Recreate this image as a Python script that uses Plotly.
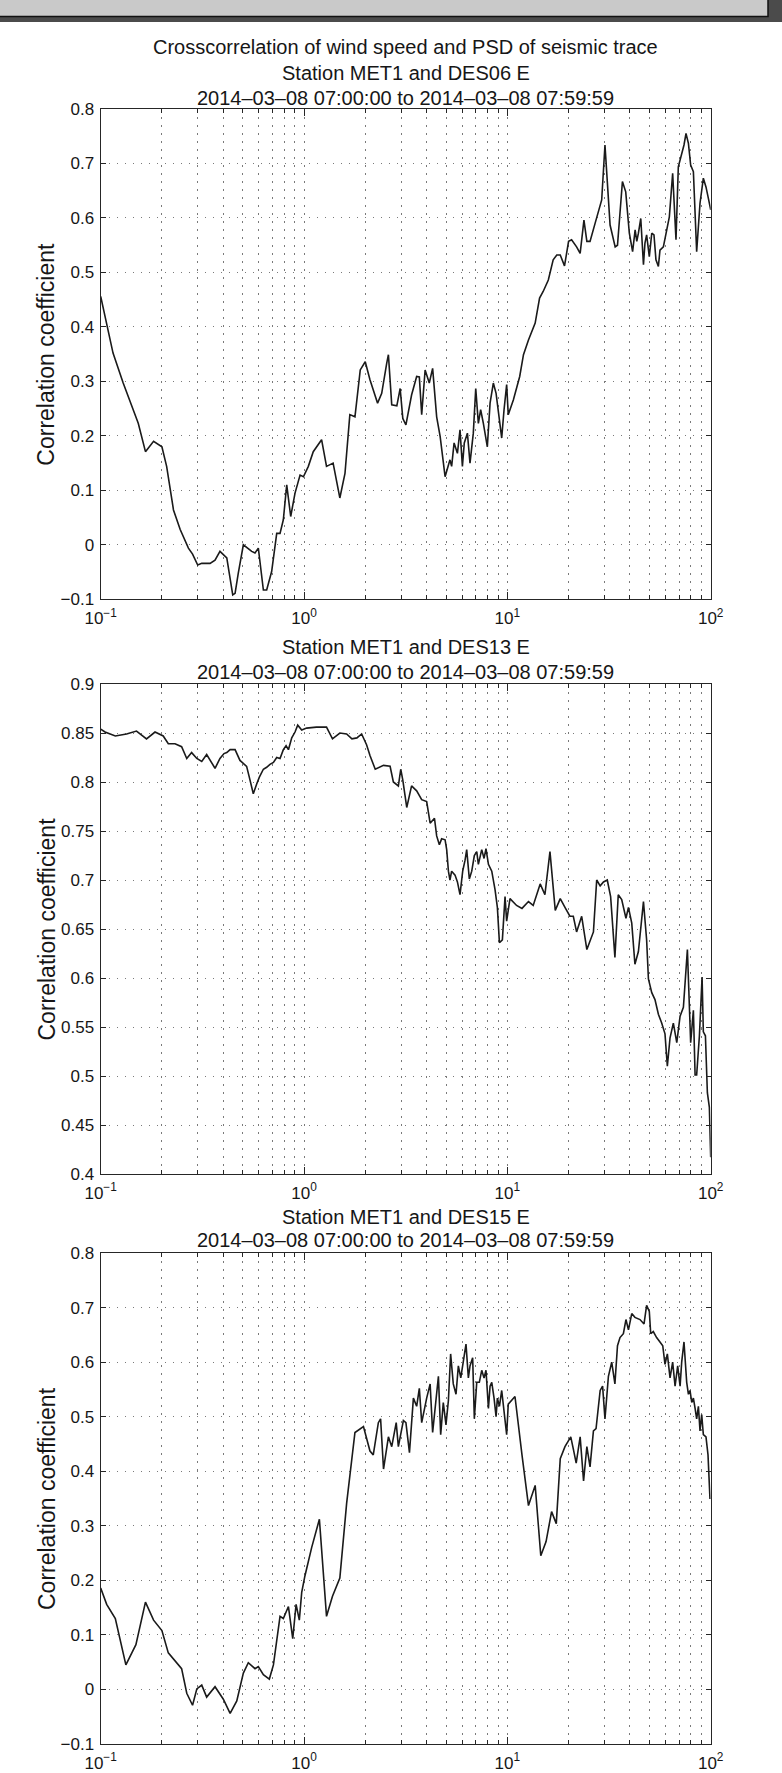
import plotly.graph_objects as go

W, H = 782, 1773
FONT = "Liberation Sans, Arial, Helvetica, sans-serif"

# ---- data: frequency (Hz) and correlation coefficient per station pair ----
freq_des06 = [0.1, 0.115, 0.129, 0.145, 0.153, 0.166, 0.182, 0.2, 0.211, 0.228, 0.246, 0.27, 0.283, 0.3, 0.314,
              0.345, 0.365, 0.386, 0.417, 0.446, 0.458, 0.475, 0.503, 0.553, 0.574, 0.596, 0.631, 0.655, 0.693,
              0.734, 0.762, 0.791, 0.822, 0.86, 0.903, 0.956, 0.993, 1.05, 1.11, 1.22, 1.29, 1.39, 1.5, 1.59,
              1.68, 1.78, 1.89, 2.0, 2.11, 2.3, 2.41, 2.55, 2.6,
              2.7, 2.86, 2.97, 3.06, 3.17, 3.38, 3.58, 3.69, 3.79, 3.94, 4.13, 4.29, 4.49, 4.67, 4.94, 5.22,
              5.32, 5.47, 5.68, 5.85, 6.01, 6.14, 6.36, 6.55, 6.8, 6.99, 7.2, 7.39, 7.62, 7.97, 8.22, 8.53,
              8.8, 9.13, 9.38, 9.63, 9.92, 10.1, 10.7, 11.5, 12.0, 12.7, 13.7, 14.4, 15.0, 15.9, 16.8, 17.5,
              18.2, 19.1, 20.0, 20.7, 21.9, 22.8, 23.8, 24.6, 25.5, 27.0, 29.1, 30.2, 32.0, 33.9, 34.8, 36.8,
              38.2, 39.8, 41.3, 42.5, 43.3, 44.1, 45.3, 46.7, 47.5, 48.4, 49.9, 51.3, 52.6, 53.8, 55.3, 56.3,
              58.5, 60.8, 62.6, 65.0, 67.5, 69.3, 72.0, 73.9, 75.6, 77.7, 79.7, 82.2, 85.3, 88.6, 92.0, 94.8,
              97.4, 100]
corr_des06 = [0.456, 0.352, 0.297, 0.248, 0.223, 0.171, 0.190, 0.180, 0.144, 0.064, 0.028, -0.006, -0.017,
              -0.037, -0.034, -0.034, -0.028, -0.012, -0.024, -0.092, -0.089, -0.052, 0.0, -0.012, -0.015,
              -0.006, -0.083, -0.083, -0.049, 0.021, 0.021, 0.046, 0.110, 0.052, 0.095, 0.128, 0.125, 0.144,
              0.171, 0.193, 0.144, 0.150, 0.086, 0.131, 0.239, 0.235, 0.321, 0.336, 0.303, 0.260, 0.278, 0.333,
              0.349,
              0.257, 0.255, 0.287, 0.232, 0.220, 0.275, 0.309, 0.308, 0.239, 0.321, 0.297, 0.324, 0.235, 0.199,
              0.125, 0.156, 0.144, 0.187, 0.168, 0.211, 0.144, 0.187, 0.205, 0.150, 0.205, 0.287, 0.223, 0.248,
              0.223, 0.180, 0.260, 0.297, 0.278, 0.229, 0.196, 0.248, 0.294, 0.239, 0.266, 0.309, 0.349, 0.376,
              0.407, 0.453, 0.465, 0.486, 0.523, 0.532, 0.532, 0.512, 0.557, 0.560, 0.547, 0.535, 0.596, 0.557,
              0.557, 0.590, 0.633, 0.734, 0.587, 0.547, 0.550, 0.667, 0.648, 0.572, 0.538, 0.578, 0.557, 0.572,
              0.599, 0.514, 0.554, 0.569, 0.529, 0.572, 0.569, 0.523, 0.511, 0.541, 0.547, 0.578, 0.602, 0.682,
              0.560, 0.694, 0.716, 0.734, 0.755, 0.737, 0.697, 0.685, 0.538, 0.627, 0.673, 0.657, 0.636, 0.615]

freq_des13 = [0.1, 0.105, 0.118, 0.134, 0.150, 0.168, 0.185, 0.203, 0.215, 0.232, 0.250, 0.265, 0.280, 0.297,
              0.314, 0.332, 0.365, 0.386, 0.404, 0.417, 0.433, 0.458, 0.484, 0.522, 0.538, 0.563, 0.585, 0.603,
              0.631, 0.655, 0.680, 0.707, 0.734, 0.762, 0.791, 0.816, 0.838, 0.870, 0.903, 0.931, 0.974, 1.03,
              1.15, 1.29, 1.38, 1.50, 1.62, 1.72, 1.82, 1.92, 2.03, 2.11, 2.24,
              2.46, 2.65, 2.75, 2.91, 2.99, 3.06, 3.20, 3.38, 3.58, 3.79, 4.01, 4.17, 4.38, 4.49, 4.63, 4.75,
              4.94, 5.03, 5.13, 5.22, 5.32, 5.53, 5.68, 5.85, 6.03, 6.19, 6.31, 6.50, 6.68, 6.88, 7.07, 7.20,
              7.48, 7.68, 7.85, 8.07, 8.38, 8.70, 8.93, 9.14, 9.45, 9.74, 9.92, 10.3, 11.1, 11.8, 12.7, 13.4,
              14.5, 15.3, 16.2, 17.2, 18.2, 19.2, 20.3, 21.1, 21.9, 23.2, 24.6, 26.5, 27.5, 28.6, 29.7, 31.0,
              32.2, 33.8, 35.1, 36.5, 38.3, 39.4, 40.9, 42.4, 44.1, 46.7, 48.4, 49.4, 51.3, 53.2, 55.3, 57.4,
              59.6, 61.2, 63.1, 65.5, 68.1, 70.7, 73.4, 76.8, 79.7, 82.2, 83.8, 85.3, 88.0, 90.7, 92.0, 94.2,
              96.3, 98.5, 100]
corr_des13 = [0.854, 0.851, 0.847, 0.849, 0.852, 0.844, 0.851, 0.847, 0.839, 0.839, 0.836, 0.824, 0.830, 0.824,
              0.821, 0.828, 0.814, 0.824, 0.829, 0.830, 0.833, 0.833, 0.822, 0.816, 0.805, 0.788, 0.798, 0.805,
              0.813, 0.815, 0.818, 0.820, 0.825, 0.824, 0.833, 0.837, 0.833, 0.845, 0.851, 0.858, 0.853, 0.855,
              0.856, 0.856, 0.844, 0.850, 0.849, 0.844, 0.845, 0.849, 0.838, 0.827, 0.813,
              0.817, 0.816, 0.800, 0.796, 0.813, 0.802, 0.774, 0.796, 0.791, 0.782, 0.780, 0.758, 0.763, 0.745,
              0.736, 0.742, 0.741, 0.731, 0.709, 0.700, 0.709, 0.705, 0.698, 0.685, 0.709, 0.720, 0.731, 0.701,
              0.709, 0.725, 0.729, 0.716, 0.731, 0.722, 0.732, 0.716, 0.709, 0.690, 0.672, 0.636, 0.639, 0.683,
              0.658, 0.681, 0.674, 0.671, 0.678, 0.674, 0.696, 0.685, 0.729, 0.669, 0.681, 0.672, 0.663, 0.663,
              0.647, 0.663, 0.629, 0.647, 0.700, 0.694, 0.698, 0.700, 0.683, 0.621, 0.685, 0.680, 0.661, 0.672,
              0.656, 0.614, 0.627, 0.678, 0.639, 0.599, 0.585, 0.578, 0.563, 0.554, 0.543, 0.510, 0.539, 0.554,
              0.534, 0.561, 0.570, 0.629, 0.534, 0.567, 0.501, 0.501, 0.541, 0.601, 0.545, 0.541, 0.483, 0.468,
              0.417]

freq_des15 = [0.1, 0.107, 0.118, 0.133, 0.149, 0.166, 0.182, 0.200, 0.215, 0.232, 0.250, 0.265, 0.283, 0.297,
              0.314, 0.332, 0.365, 0.401, 0.433, 0.467, 0.503, 0.532, 0.574, 0.596, 0.631, 0.675, 0.707, 0.762,
              0.791, 0.838, 0.880, 0.914, 0.948, 0.974, 1.01, 1.09, 1.19, 1.29, 1.38, 1.50, 1.62, 1.78, 1.96,
              2.11, 2.19, 2.32, 2.38,
              2.46, 2.60, 2.70, 2.84, 2.91, 3.08, 3.17, 3.30, 3.45, 3.58, 3.69, 3.79, 4.01, 4.17, 4.29, 4.46,
              4.58, 4.70, 4.84, 4.99, 5.13, 5.26, 5.42, 5.59, 5.74, 5.90, 6.08, 6.26, 6.43, 6.55, 6.75, 6.88,
              7.07, 7.28, 7.48, 7.68, 7.85, 8.07, 8.22, 8.38, 8.60, 8.80, 8.93, 9.14, 9.38, 9.63, 9.92, 10.1,
              10.9, 11.8, 12.7, 13.7, 14.6, 15.5, 16.5, 17.4, 18.2, 19.2, 20.5, 21.1, 21.8, 22.8, 23.7, 24.6,
              25.5, 26.5, 27.3, 28.6, 29.4, 30.2, 31.4, 32.6, 33.8, 34.8, 35.8, 37.2, 38.3, 39.4, 40.9, 42.4,
              44.9, 47.0, 48.4, 49.9, 50.7, 52.2, 54.2, 56.3, 58.1, 59.6, 61.2, 63.1, 65.0, 66.8, 68.8, 70.7,
              72.0, 73.9, 76.2, 77.7, 79.1, 80.7, 82.2, 83.8, 85.3, 87.0, 88.6, 90.3, 92.0, 94.8, 97.0, 99.2]
corr_des15 = [0.186, 0.156, 0.130, 0.045, 0.082, 0.160, 0.127, 0.108, 0.067, 0.053, 0.038, -0.007, -0.029,
              0.001, 0.008, -0.014, 0.005, -0.018, -0.044, -0.021, 0.030, 0.049, 0.038, 0.042, 0.027, 0.019,
              0.045, 0.134, 0.130, 0.152, 0.093, 0.156, 0.127, 0.178, 0.208, 0.260, 0.312, 0.134, 0.171, 0.204,
              0.341, 0.471, 0.482, 0.437, 0.430, 0.489, 0.496,
              0.404, 0.463, 0.445, 0.489, 0.445, 0.493, 0.489, 0.434, 0.534, 0.519, 0.552, 0.489, 0.534, 0.560,
              0.471, 0.534, 0.574, 0.467, 0.526, 0.485, 0.530, 0.615, 0.560, 0.541, 0.593, 0.571, 0.604, 0.633,
              0.571, 0.593, 0.608, 0.496, 0.563, 0.563, 0.585, 0.571, 0.585, 0.515, 0.556, 0.563, 0.534, 0.500,
              0.534, 0.519, 0.548, 0.511, 0.467, 0.523, 0.537, 0.430, 0.337, 0.374, 0.245, 0.271, 0.326, 0.304,
              0.423, 0.445, 0.463, 0.441, 0.415, 0.463, 0.382, 0.445, 0.408, 0.474, 0.478, 0.548, 0.556, 0.496,
              0.574, 0.600, 0.560, 0.630, 0.645, 0.652, 0.678, 0.659, 0.689, 0.682, 0.678, 0.670, 0.704, 0.693,
              0.652, 0.656, 0.645, 0.637, 0.630, 0.596, 0.615, 0.571, 0.600, 0.556, 0.593, 0.556, 0.600, 0.637,
              0.563, 0.541, 0.548, 0.526, 0.534, 0.515, 0.496, 0.519, 0.474, 0.504, 0.467, 0.463, 0.430, 0.349]

stations = ["DES06", "DES13", "DES15"]
series = [(freq_des06, corr_des06), (freq_des13, corr_des13), (freq_des15, corr_des15)]

main_title = "Crosscorrelation of wind speed and PSD of seismic trace"
period_text = "2014\u201303\u201308 07:00:00 to 2014\u201303\u201308 07:59:59"
y_label = "Correlation coefficient"

x_tickvals = [0.1, 1, 10, 100]
x_ticktext = ["10<sup>\u22121</sup>", "10<sup>0</sup>", "10<sup>1</sup>", "10<sup>2</sup>"]

y_ranges = [(-0.1, 0.8), (0.4, 0.9), (-0.1, 0.8)]
y_tickvals = [
    [-0.1, 0.0, 0.1, 0.2, 0.3, 0.4, 0.5, 0.6, 0.7, 0.8],
    [0.4, 0.45, 0.5, 0.55, 0.6, 0.65, 0.7, 0.75, 0.8, 0.85, 0.9],
    [-0.1, 0.0, 0.1, 0.2, 0.3, 0.4, 0.5, 0.6, 0.7, 0.8],
]
y_ticktext = [
    ["\u22120.1", "0", "0.1", "0.2", "0.3", "0.4", "0.5", "0.6", "0.7", "0.8"],
    ["0.4", "0.45", "0.5", "0.55", "0.6", "0.65", "0.7", "0.75", "0.8", "0.85", "0.9"],
    ["\u22120.1", "0", "0.1", "0.2", "0.3", "0.4", "0.5", "0.6", "0.7", "0.8"],
]

# ---- page geometry (pixels) ----
PLOT_LEFT, PLOT_RIGHT = 100.7, 710.7
PANELS_PX = [(109, 599.3), (684, 1174), (1253, 1744)]   # (top, bottom) of each axes box
TITLE_GAP = [(11, 25.5), (12, 25.5), (13, 23.5)]        # (gap above box, line pitch) per panel


def px_x(px):
    return px / W


def px_y(px):
    return 1 - px / H


minor_vals = [m * 10.0 ** e for e in (-1, 0, 1) for m in range(2, 10)]

AXIS_COLOR = "#262626"
TEXT_COLOR = "#161616"
GRID_COLOR = "#7a7a7a"
GRID_DASH = "1.5px,6.5px"

fig = go.Figure()
layout = dict(
    width=W, height=H,
    margin=dict(l=0, r=0, t=0, b=0),
    paper_bgcolor="white", plot_bgcolor="white",
    showlegend=False,
    font=dict(family=FONT, color=TEXT_COLOR),
)

annotations = []
for i, ((fx, cy), (top, bot)) in enumerate(zip(series, PANELS_PX)):
    n = "" if i == 0 else str(i + 1)
    fig.add_trace(go.Scatter(
        x=fx, y=cy, mode="lines", xaxis="x" + n, yaxis="y" + n,
        line=dict(color="#1a1a1a", width=1.6), hoverinfo="x+y",
    ))
    layout["xaxis" + n] = dict(
        type="log", range=[-1, 2], domain=[px_x(PLOT_LEFT), px_x(PLOT_RIGHT)],
        anchor="y" + n,
        showline=True, linecolor=AXIS_COLOR, linewidth=1.3, mirror="ticks",
        ticks="inside", ticklen=7, tickwidth=1.1, tickcolor=AXIS_COLOR,
        tickvals=x_tickvals, ticktext=x_ticktext, ticklabelstandoff=3,
        tickfont=dict(size=17, family=FONT, color=TEXT_COLOR),
        showgrid=True, gridcolor=GRID_COLOR, gridwidth=1.1, griddash=GRID_DASH,
        minor=dict(tickvals=minor_vals, ticks="inside", ticklen=4, tickwidth=1.1,
                   tickcolor=AXIS_COLOR, showgrid=True, gridcolor=GRID_COLOR,
                   gridwidth=1.1, griddash=GRID_DASH),
        zeroline=False, automargin=False,
    )
    layout["yaxis" + n] = dict(
        range=list(y_ranges[i]), domain=[px_y(bot), px_y(top)],
        anchor="x" + n,
        showline=True, linecolor=AXIS_COLOR, linewidth=1.3, mirror="ticks",
        ticks="inside", ticklen=5, tickwidth=1.1, tickcolor=AXIS_COLOR,
        tickvals=y_tickvals[i], ticktext=y_ticktext[i], ticklabelstandoff=2,
        tickfont=dict(size=17, family=FONT, color=TEXT_COLOR),
        showgrid=True, gridcolor=GRID_COLOR, gridwidth=1.1, griddash=GRID_DASH,
        zeroline=False, automargin=False,
    )

    # axis title
    annotations.append(dict(
        text=y_label, textangle=-90, x=px_x(46.5), y=px_y((top + bot) / 2),
        xref="paper", yref="paper", xanchor="center", yanchor="middle",
        showarrow=False, font=dict(size=23, family=FONT, color=TEXT_COLOR),
    ))

    # panel titles, stacked upward from the axes box
    cx = px_x((PLOT_LEFT + PLOT_RIGHT) / 2)
    gap, pitch = TITLE_GAP[i]
    lines = [f"Station MET1 and {stations[i]} E", period_text]
    if i == 0:
        lines = [main_title] + lines
    for k, txt in enumerate(reversed(lines)):
        annotations.append(dict(
            text=txt, x=cx, y=px_y(top - gap - pitch * k),
            xref="paper", yref="paper", xanchor="center", yanchor="middle",
            showarrow=False, font=dict(size=20, family=FONT, color=TEXT_COLOR),
        ))

layout["annotations"] = annotations

# window-frame strip along the top edge
layout["shapes"] = [
    dict(type="rect", xref="paper", yref="paper", x0=0, x1=1, y0=px_y(22), y1=1,
         fillcolor="#4b4b4b", line=dict(width=0), layer="above"),
    dict(type="rect", xref="paper", yref="paper", x0=px_x(-5), x1=px_x(768), y0=px_y(16.5), y1=px_y(-5),
         fillcolor="#c9c9c9", line=dict(color="#111111", width=1.5), layer="above"),
]

fig.update_layout(**layout)
fig.write_html("out.html")
